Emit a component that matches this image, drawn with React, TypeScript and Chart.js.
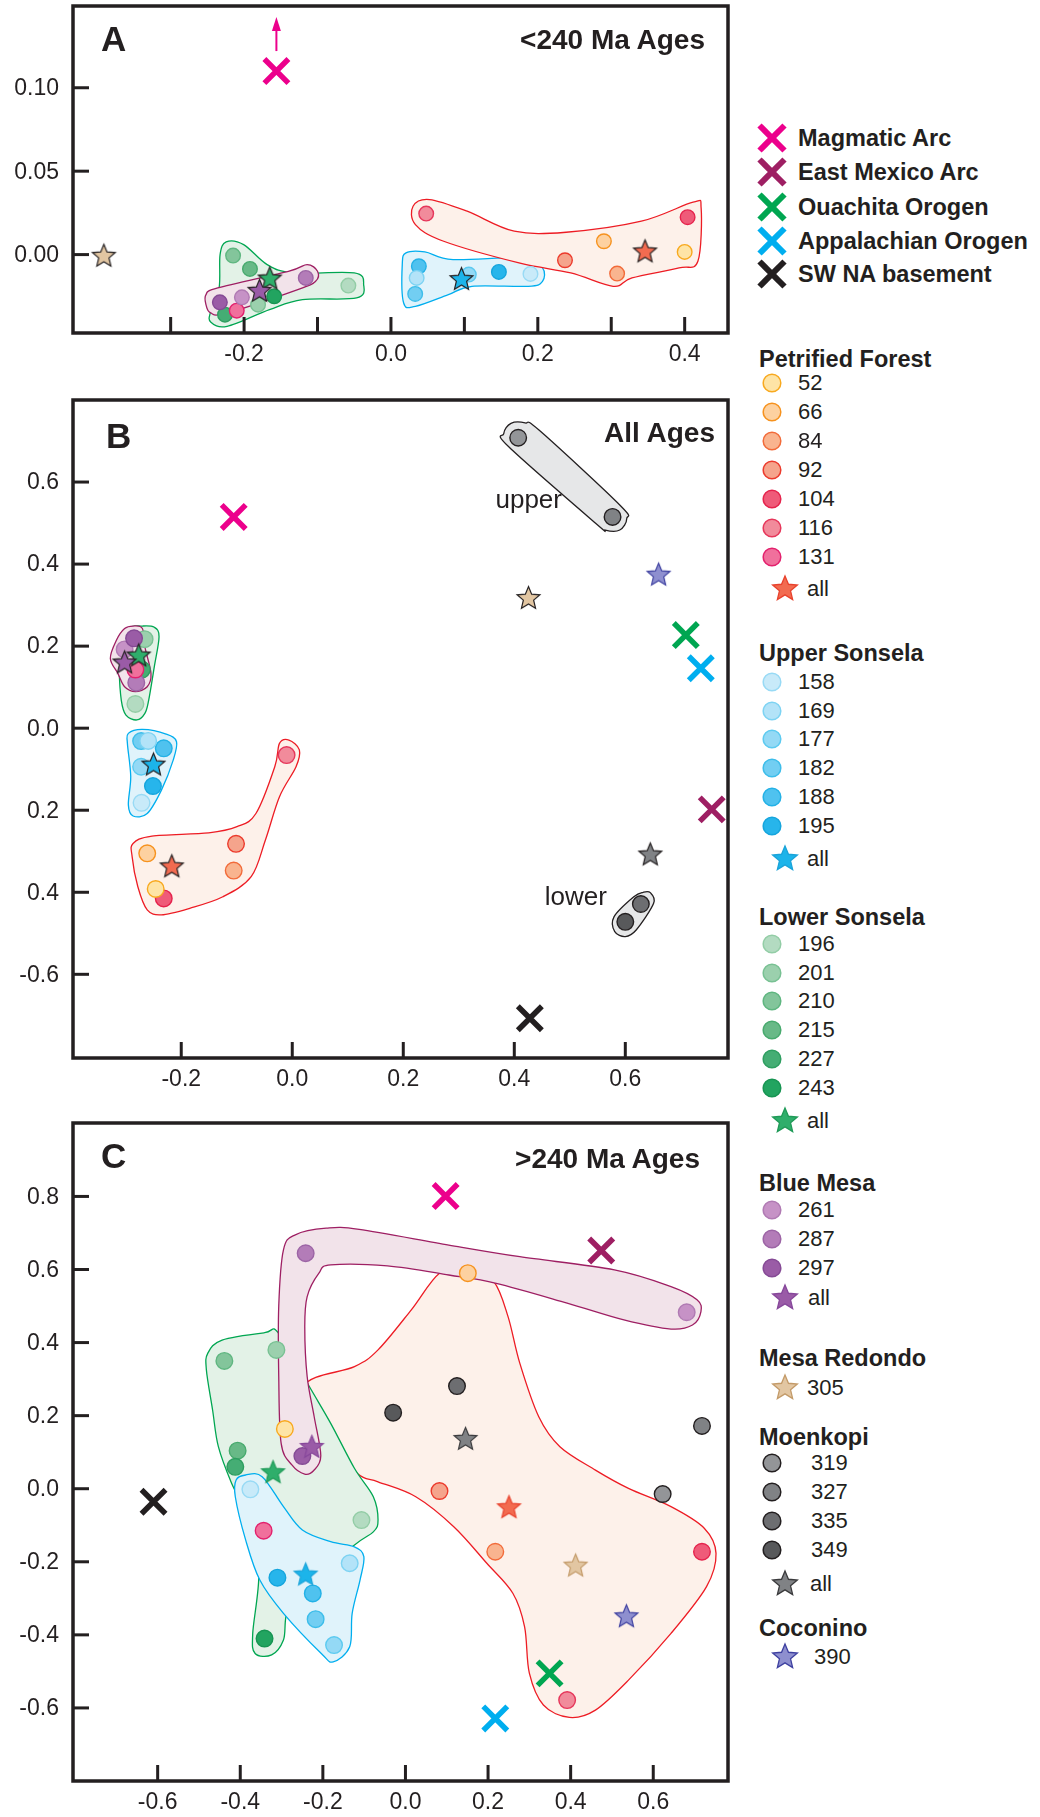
import React, { useEffect, useRef } from 'react';
import { Chart, registerables } from 'chart.js';

Chart.register(...registerables);

type XY = [number, number];
type P = [string, number, number];

// ================= legend groups =================
const PF_IDS = ['52', '66', '84', '92', '104', '116', '131'];
const US_IDS = ['158', '169', '177', '182', '188', '195'];
const LS_IDS = ['196', '201', '210', '215', '227', '243'];
const BM_IDS = ['261', '287', '297'];
const MK_IDS = ['319', '327', '335', '349'];
const MR_ID = '305';
const CO_ID = '390';
const SOURCE_NAMES = ['Magmatic Arc', 'East Mexico Arc', 'Ouachita Orogen', 'Appalachian Orogen', 'SW NA basement'];

// ================= Panel A (<240 Ma) =================
const A_X_TICKS = [-0.3, -0.2, -0.1, 0, 0.1, 0.2, 0.3, 0.4];
const A_X_LABELS = ['', '-0.2', '', '0.0', '', '0.2', '', '0.4'];
const A_Y_TICKS = [0, 0.05, 0.1];
const A_Y_LABELS = ['0.00', '0.05', '0.10'];
const A_CIRCLES: P[] = [
  ['116', 0.048, 0.0246], ['104', 0.404, 0.0224], ['66', 0.29, 0.008], ['92', 0.237, -0.0034], ['84', 0.308, -0.0114], ['52', 0.4, 0.0016],
  ['188', 0.038, -0.007], ['169', 0.035, -0.014], ['182', 0.033, -0.0236], ['177', 0.106, -0.012], ['195', 0.147, -0.0104], ['158', 0.19, -0.0116],
  ['210', -0.215, -0.0006], ['215', -0.192, -0.0086], ['196', -0.058, -0.0186], ['243', -0.159, -0.025], ['201', -0.181, -0.03], ['227', -0.226, -0.036],
  ['131', -0.21, -0.0336],
  ['287', -0.116, -0.014], ['261', -0.203, -0.0256], ['297', -0.233, -0.0286],
];
const A_STARS: P[] = [['MR', -0.391, -0.001], ['LS', -0.165, -0.0146], ['BM', -0.179, -0.022], ['US', 0.096, -0.015], ['PF', 0.346, 0.0016]];
const A_SOURCES: P[] = [['Magmatic Arc', -0.156, 0.11]];
const A_OFFSCALE: P[] = [['Magmatic Arc', -0.156, 0.11]];
const A_HULL_US: XY[] = [[0.0205, 0.001], [0.0462, 0.0016], [0.0846, -0.003], [0.1808, -0.002], [0.2064, -0.008], [0.2064, -0.016], [0.1872, -0.019], [0.1103, -0.019], [0.0782, -0.024], [0.0333, -0.031], [0.0173, -0.029], [0.0154, -0.006]];
const A_HULL_PF: XY[] = [[0.0301, 0.029], [0.0526, 0.033], [0.1038, 0.026], [0.1679, 0.014], [0.2385, 0.0134], [0.341, 0.02], [0.4115, 0.0314], [0.4224, 0.028], [0.418, -0.004], [0.3923, -0.008], [0.3282, -0.014], [0.3026, -0.019], [0.2449, -0.011], [0.1744, -0.005], [0.0718, 0.008], [0.0333, 0.018]];
const A_HULL_LS: XY[] = [[-0.2244, 0.0076], [-0.2006, 0.006], [-0.1686, -0.006], [-0.1333, -0.011], [-0.05, -0.011], [-0.0372, -0.018], [-0.0468, -0.026], [-0.1205, -0.027], [-0.1654, -0.033], [-0.2231, -0.043], [-0.2455, -0.0404], [-0.2455, -0.034], [-0.234, -0.02], [-0.2327, 0.0]];
const A_HULL_BM: XY[] = [[-0.2519, -0.024], [-0.2359, -0.02], [-0.1397, -0.01], [-0.1141, -0.006], [-0.1, -0.01], [-0.1026, -0.016], [-0.1269, -0.021], [-0.2231, -0.035], [-0.2455, -0.035], [-0.2519, -0.03]];

// ================= Panel B (all ages) =================
const B_X_TICKS = [-0.2, 0, 0.2, 0.4, 0.6];
const B_X_LABELS = ['-0.2', '0.0', '0.2', '0.4', '0.6'];
const B_Y_TICKS = [-0.6, -0.4, -0.2, 0, 0.2, 0.4, 0.6];
const B_Y_LABELS = ['-0.6', '0.4', '0.2', '0.0', '0.2', '0.4', '0.6'];
const B_CIRCLES: P[] = [
  ['196', -0.2826, 0.059], ['201', -0.266, 0.217], ['227', -0.271, 0.143],
  ['261', -0.302, 0.192], ['297', -0.285, 0.219], ['287', -0.281, 0.111],
  ['131', -0.2826, 0.143],
  ['158', -0.2715, -0.182], ['195', -0.251, -0.141], ['177', -0.2723, -0.094], ['188', -0.2315, -0.049], ['182', -0.2723, -0.0314], ['169', -0.2596, -0.031],
  ['116', -0.0102, -0.0656], ['92', -0.1013, -0.282], ['84', -0.1055, -0.347], ['66', -0.2613, -0.305], ['104', -0.2315, -0.415], ['52', -0.246, -0.392],
  ['319', 0.407, 0.708], ['327', 0.577, 0.515], ['335', 0.628, -0.4286], ['349', 0.6, -0.472],
];
const B_STARS: P[] = [['LS', -0.2766, 0.176], ['BM', -0.302, 0.159], ['US', -0.25, -0.09], ['PF', -0.217, -0.338], ['MR', 0.4255, 0.316], ['CO', 0.66, 0.373], ['MK', 0.645, -0.309]];
const B_SOURCES: P[] = [['Magmatic Arc', -0.1055, 0.515], ['Ouachita Orogen', 0.709, 0.227], ['Appalachian Orogen', 0.736, 0.146], ['East Mexico Arc', 0.7557, -0.198], ['SW NA basement', 0.428, -0.707]];
const B_NOTES: P[] = [['upper', 0.426, 0.537], ['lower', 0.511, -0.431]];
const B_HULL_LS: XY[] = [[-0.27, 0.249], [-0.2485, 0.246], [-0.24, 0.223], [-0.2485, 0.15], [-0.2587, 0.068], [-0.2655, 0.036], [-0.28, 0.02], [-0.2996, 0.032], [-0.308, 0.068], [-0.312, 0.146], [-0.311, 0.198], [-0.297, 0.243]];
const B_HULL_BM: XY[] = [[-0.2868, 0.249], [-0.27, 0.243], [-0.2655, 0.198], [-0.2545, 0.133], [-0.2613, 0.101], [-0.2826, 0.089], [-0.302, 0.101], [-0.314, 0.133], [-0.3277, 0.17], [-0.3166, 0.215], [-0.302, 0.243]];
const B_HULL_US: XY[] = [[-0.2953, -0.0127], [-0.2698, -0.003], [-0.2272, -0.0144], [-0.2085, -0.033], [-0.2145, -0.078], [-0.2357, -0.151], [-0.2613, -0.208], [-0.2868, -0.214], [-0.2953, -0.187], [-0.291, -0.118], [-0.297, -0.037]];
const B_HULL_PF: XY[] = [[-0.2868, -0.281], [-0.2528, -0.263], [-0.1506, -0.255], [-0.0996, -0.24], [-0.0655, -0.208], [-0.0315, -0.094], [-0.023, -0.037], [-0.006, -0.029], [0.0128, -0.053], [0.0068, -0.094], [-0.023, -0.167], [-0.0485, -0.273], [-0.074, -0.362], [-0.125, -0.411], [-0.1847, -0.439], [-0.2357, -0.455], [-0.2613, -0.443], [-0.2783, -0.386], [-0.2885, -0.313]];
const B_HULL_MK_UPPER: XY[] = [[0.381, 0.718], [0.394, 0.743], [0.4196, 0.744], [0.445, 0.726], [0.59, 0.544], [0.6026, 0.511], [0.59, 0.483], [0.564, 0.483], [0.547, 0.499], [0.39, 0.686]];
const B_HULL_MK_LOWER: XY[] = [[0.645, -0.401], [0.651, -0.427], [0.6196, -0.492], [0.6, -0.508], [0.581, -0.496], [0.5796, -0.46], [0.6153, -0.411], [0.6323, -0.4]];

// ================= Panel C (>240 Ma) =================
const C_X_TICKS = [-0.6, -0.4, -0.2, 0, 0.2, 0.4, 0.6];
const C_X_LABELS = ['-0.6', '-0.4', '-0.2', '0.0', '0.2', '0.4', '0.6'];
const C_Y_TICKS = [-0.6, -0.4, -0.2, 0, 0.2, 0.4, 0.6, 0.8];
const C_Y_LABELS = ['-0.6', '-0.4', '-0.2', '0.0', '0.2', '0.4', '0.6', '0.8'];
const C_CIRCLES: P[] = [
  ['287', -0.2416, 0.6445], ['261', 0.681, 0.483], ['66', 0.151, 0.59],
  ['210', -0.4385, 0.3497], ['201', -0.3125, 0.38], ['215', -0.4064, 0.104], ['227', -0.412, 0.06], ['196', -0.1065, -0.0857], ['243', -0.3412, -0.41],
  ['335', 0.1248, 0.281], ['349', -0.0298, 0.208], ['327', 0.718, 0.172], ['319', 0.6228, -0.0145],
  ['52', -0.292, 0.1635], ['297', -0.2496, 0.0895],
  ['158', -0.3755, -0.0017], ['169', -0.135, -0.204], ['195', -0.31, -0.2436], ['188', -0.2244, -0.2865], ['182', -0.2175, -0.357], ['177', -0.1729, -0.428],
  ['131', -0.3434, -0.115], ['92', 0.0824, -0.0063], ['84', 0.2175, -0.1725], ['104', 0.718, -0.1725], ['116', 0.3915, -0.5786],
];
const C_STARS: P[] = [['MK', 0.1454, 0.135], ['BM', -0.2267, 0.113], ['LS', -0.3206, 0.0438], ['PF', 0.2507, -0.052], ['MR', 0.412, -0.2117], ['US', -0.2416, -0.2363], ['CO', 0.535, -0.3505]];
const C_SOURCES: P[] = [['Magmatic Arc', 0.0973, 0.801], ['East Mexico Arc', 0.474, 0.652], ['SW NA basement', -0.61, -0.0356], ['Ouachita Orogen', 0.349, -0.5055], ['Appalachian Orogen', 0.2175, -0.6287]];
const C_HULL_PF: XY[] = [[0.0824, 0.59], [0.151, 0.608], [0.214, 0.567], [0.2484, 0.471], [0.277, 0.343], [0.3228, 0.197], [0.374, 0.115], [0.46, 0.051], [0.54, 0.001], [0.643, -0.049], [0.7235, -0.108], [0.752, -0.177], [0.729, -0.268], [0.643, -0.396], [0.54, -0.524], [0.46, -0.606], [0.397, -0.626], [0.334, -0.592], [0.3, -0.505], [0.2885, -0.378], [0.26, -0.286], [0.197, -0.204], [0.117, -0.104], [0.025, -0.022], [-0.0664, 0.019], [-0.115, 0.04], [-0.18, 0.13], [-0.245, 0.28], [-0.1236, 0.334], [-0.0664, 0.38], [0.0137, 0.489]];
const C_HULL_LS: XY[] = [[-0.4785, 0.371], [-0.444, 0.407], [-0.341, 0.427], [-0.307, 0.4255], [-0.2324, 0.279], [-0.181, 0.179], [-0.1236, 0.056], [-0.0778, -0.022], [-0.0664, -0.0857], [-0.0778, -0.118], [-0.129, -0.159], [-0.2725, -0.305], [-0.2954, -0.414], [-0.324, -0.455], [-0.364, -0.451], [-0.3698, -0.396], [-0.355, -0.232], [-0.3755, -0.095], [-0.421, 0.015], [-0.453, 0.115], [-0.467, 0.2155], [-0.482, 0.325]];
const C_HULL_US: XY[] = [[-0.41, 0.024], [-0.387, 0.0375], [-0.347, 0.033], [-0.2954, -0.049], [-0.2496, -0.113], [-0.181, -0.145], [-0.1236, -0.159], [-0.1007, -0.186], [-0.11, -0.25], [-0.129, -0.341], [-0.135, -0.4326], [-0.175, -0.4737], [-0.2038, -0.451], [-0.2954, -0.341], [-0.3526, -0.25], [-0.387, -0.14], [-0.412, -0.022]];
const C_HULL_BM: XY[] = [[-0.244, 0.04], [-0.275, 0.065], [-0.301, 0.124], [-0.3068, 0.307], [-0.3068, 0.5], [-0.2954, 0.654], [-0.2667, 0.695], [-0.192, 0.713], [-0.112, 0.71], [0.105, 0.667], [0.277, 0.635], [0.506, 0.599], [0.643, 0.553], [0.706, 0.517], [0.7155, 0.485], [0.695, 0.448], [0.643, 0.437], [0.529, 0.462], [0.3915, 0.508], [0.2198, 0.562], [0.105, 0.585], [-0.0435, 0.61], [-0.181, 0.6125], [-0.2095, 0.59], [-0.238, 0.526], [-0.2438, 0.4436], [-0.238, 0.307], [-0.221, 0.197], [-0.205, 0.09], [-0.222, 0.05]];

// ================= styles =================
const FONT = '"Liberation Sans", Arial, Helvetica, sans-serif';
const INK = '#231f20';
const SAMPLE_STYLE: Record<string, [string, string]> = {
  '52': ['#fee4a6', '#f8a91f'], '66': ['#fdd1a0', '#f6921e'], '84': ['#f9b48f', '#f26b3a'], '92': ['#f5a48c', '#ec3a2c'],
  '104': ['#ef5b79', '#e5234c'], '116': ['#f18b9b', '#e6365a'], '131': ['#f0709c', '#e3206d'],
  '158': ['#c8eaf9', '#98daf5'], '169': ['#b3e3f8', '#7dd3f3'], '177': ['#94d9f5', '#5ccaf0'], '182': ['#72cef2', '#3dbdea'],
  '188': ['#4fc2ef', '#23b1e6'], '195': ['#27b5eb', '#15a5dd'],
  '196': ['#b3dbc1', '#93cda6'], '201': ['#9bd0ad', '#78c193'], '210': ['#83c59b', '#5fb680'], '215': ['#68b987', '#48aa6e'],
  '227': ['#45ad74', '#2e9e60'], '243': ['#22a460', '#179452'],
  '261': ['#c692c6', '#b07ab3'], '287': ['#b37cb8', '#9c64a5'], '297': ['#9a5ca6', '#854a95'],
  '319': ['#939598', INK], '327': ['#808285', INK], '335': ['#6d6e71', INK], '349': ['#58595b', INK],
};
const STAR_STYLE: Record<string, [string, string]> = {
  PF: ['#f26b50', '#e8412c'], US: ['#1cb4ea', '#1aa3d9'], LS: ['#2fae6b', '#1f9a57'], BM: ['#9a5ba7', '#86479a'],
  MR: ['#e2c6a2', '#c39a68'], MK: ['#808285', '#3a3a3c'], CO: ['#8e8fcf', '#3e40a0'],
};
const SOURCE_COLOR: Record<string, string> = {
  'Magmatic Arc': '#ec008c', 'East Mexico Arc': '#9e1f63', 'Ouachita Orogen': '#00a651', 'Appalachian Orogen': '#00aeef', 'SW NA basement': INK,
};
const HULL_STYLE: Record<string, [string, string]> = {
  PF: ['#fdf1ea', '#ed1c24'], US: ['#e0f3fb', '#00aeef'], LS: ['#e3f2e7', '#00a651'], BM: ['#f2e3ea', '#9e1f63'], MK: ['#e6e7e8', INK],
};

interface Spec {
  top: number; h: number; padTop: number; xH: number;
  xMin: number; xMax: number; yMin: number; yMax: number;
  xTicks: number[]; xLabels: string[]; yTicks: number[]; yLabels: string[];
  circles: P[]; stars: P[]; sources: P[]; hulls: [string, XY[]][];
  offscale: P[]; notes: P[]; coloredStars: boolean; circleR: number;
}

const SPEC_A: Spec = {
  top: 0, h: 380, padTop: 6, xH: 47, xMin: -0.433, xMax: 0.459, yMin: -0.047, yMax: 0.149,
  xTicks: A_X_TICKS, xLabels: A_X_LABELS, yTicks: A_Y_TICKS, yLabels: A_Y_LABELS,
  circles: A_CIRCLES, stars: A_STARS, sources: A_SOURCES,
  hulls: [['US', A_HULL_US], ['PF', A_HULL_PF], ['LS', A_HULL_LS], ['BM', A_HULL_BM]],
  offscale: A_OFFSCALE, notes: [], coloredStars: false, circleR: 7.3,
};
const SPEC_B: Spec = {
  top: 385, h: 710, padTop: 15, xH: 37, xMin: -0.395, xMax: 0.785, yMin: -0.804, yMax: 0.8,
  xTicks: B_X_TICKS, xLabels: B_X_LABELS, yTicks: B_Y_TICKS, yLabels: B_Y_LABELS,
  circles: B_CIRCLES, stars: B_STARS, sources: B_SOURCES,
  hulls: [['LS', B_HULL_LS], ['BM', B_HULL_BM], ['US', B_HULL_US], ['PF', B_HULL_PF], ['MK', B_HULL_MK_UPPER], ['MK', B_HULL_MK_LOWER]],
  offscale: [], notes: B_NOTES, coloredStars: false, circleR: 8.3,
};
const SPEC_C: Spec = {
  top: 1110, h: 707, padTop: 13, xH: 36, xMin: -0.805, xMax: 0.781, yMin: -0.8, yMax: 1.001,
  xTicks: C_X_TICKS, xLabels: C_X_LABELS, yTicks: C_Y_TICKS, yLabels: C_Y_LABELS,
  circles: C_CIRCLES, stars: C_STARS, sources: C_SOURCES,
  hulls: [['PF', C_HULL_PF], ['LS', C_HULL_LS], ['US', C_HULL_US], ['BM', C_HULL_BM]],
  offscale: [], notes: [], coloredStars: true, circleR: 8.3,
};

// ================= helpers =================
function starPts(cx: number, cy: number, R: number, r: number): XY[] {
  const pts: XY[] = [];
  for (let i = 0; i < 10; i++) {
    const a = -Math.PI / 2 + (i * Math.PI) / 5;
    const rad = i % 2 === 0 ? R : r;
    pts.push([cx + rad * Math.cos(a), cy + rad * Math.sin(a)]);
  }
  return pts;
}

function starCanvas(fill: string, stroke: string, R: number, lw: number): HTMLCanvasElement {
  const s = Math.ceil(2 * R + 2 * lw + 2);
  const c = document.createElement('canvas');
  c.width = s;
  c.height = s;
  const ctx = c.getContext('2d')!;
  const pts = starPts(s / 2, s / 2, R, R * 0.45);
  ctx.beginPath();
  pts.forEach(([x, y], i) => (i ? ctx.lineTo(x, y) : ctx.moveTo(x, y)));
  ctx.closePath();
  ctx.fillStyle = fill;
  ctx.fill();
  ctx.lineWidth = lw;
  ctx.lineJoin = 'miter';
  ctx.strokeStyle = stroke;
  ctx.stroke();
  return c;
}

function smoothClosed(ctx: CanvasRenderingContext2D, pts: XY[]) {
  const n = pts.length;
  ctx.moveTo(pts[0][0], pts[0][1]);
  const t = 1 / 6;
  for (let i = 0; i < n; i++) {
    const p0 = pts[(i - 1 + n) % n], p1 = pts[i], p2 = pts[(i + 1) % n], p3 = pts[(i + 2) % n];
    ctx.bezierCurveTo(
      p1[0] + (p2[0] - p0[0]) * t, p1[1] + (p2[1] - p0[1]) * t,
      p2[0] - (p3[0] - p1[0]) * t, p2[1] - (p3[1] - p1[1]) * t,
      p2[0], p2[1]
    );
  }
  ctx.closePath();
}

function makeConfig(s: Spec): any {
  const tickFont = { family: FONT, size: 23 };
  const hullPlugin = {
    id: 'hulls',
    beforeDatasetsDraw(chart: any) {
      const { ctx, chartArea: a, scales } = chart;
      const x = scales.x, y = scales.y;
      ctx.save();
      ctx.beginPath();
      ctx.rect(a.left, a.top, a.right - a.left, a.bottom - a.top);
      ctx.clip();
      for (const [g, pts] of s.hulls) {
        const px = pts.map(([vx, vy]) => [x.getPixelForValue(vx), y.getPixelForValue(vy)] as XY);
        ctx.beginPath();
        smoothClosed(ctx, px);
        ctx.fillStyle = HULL_STYLE[g][0];
        ctx.fill();
        ctx.lineWidth = 1.3;
        ctx.strokeStyle = HULL_STYLE[g][1];
        ctx.stroke();
      }
      ctx.restore();
    },
  };
  const annoPlugin = {
    id: 'anno',
    afterDatasetsDraw(chart: any) {
      const { ctx, scales } = chart;
      const x = scales.x, y = scales.y;
      ctx.save();
      for (const [name, vx, vy] of s.offscale) {
        const px = x.getPixelForValue(vx), py = y.getPixelForValue(vy);
        ctx.strokeStyle = SOURCE_COLOR[name];
        ctx.fillStyle = SOURCE_COLOR[name];
        ctx.lineWidth = 2;
        ctx.beginPath();
        ctx.moveTo(px, py - 20);
        ctx.lineTo(px, py - 42);
        ctx.stroke();
        ctx.beginPath();
        ctx.moveTo(px, py - 54);
        ctx.lineTo(px - 4.5, py - 40);
        ctx.lineTo(px + 4.5, py - 40);
        ctx.closePath();
        ctx.fill();
      }
      ctx.font = `26px ${FONT}`;
      ctx.fillStyle = INK;
      ctx.textAlign = 'center';
      ctx.textBaseline = 'alphabetic';
      for (const [txt, vx, vy] of s.notes) {
        ctx.fillText(txt, x.getPixelForValue(vx), y.getPixelForValue(vy));
      }
      ctx.restore();
    },
  };
  const framePlugin = {
    id: 'frame',
    afterDraw(chart: any) {
      const { ctx, chartArea: a, scales } = chart;
      const x = scales.x, y = scales.y;
      ctx.save();
      ctx.strokeStyle = INK;
      ctx.lineWidth = 3;
      for (const v of s.xTicks) {
        const p = x.getPixelForValue(v);
        ctx.beginPath();
        ctx.moveTo(p, a.bottom);
        ctx.lineTo(p, a.bottom - 16);
        ctx.stroke();
      }
      for (const v of s.yTicks) {
        const p = y.getPixelForValue(v);
        ctx.beginPath();
        ctx.moveTo(a.left, p);
        ctx.lineTo(a.left + 16, p);
        ctx.stroke();
      }
      ctx.lineWidth = 3.5;
      ctx.strokeRect(a.left, a.top, a.right - a.left, a.bottom - a.top);
      // y tick labels, placed by the y scale
      ctx.font = `23px ${FONT}`;
      ctx.fillStyle = INK;
      ctx.textAlign = 'right';
      ctx.textBaseline = 'middle';
      s.yTicks.forEach((v, i) => {
        ctx.fillText(s.yLabels[i], a.left - 14, y.getPixelForValue(v) + 1);
      });
      ctx.restore();
    },
  };
  const starStroke = (g: string) => (s.coloredStars ? STAR_STYLE[g][1] : g === 'CO' ? STAR_STYLE.CO[1] : INK);
  return {
    type: 'scatter',
    data: {
      datasets: [
        {
          label: 'sources',
          data: s.sources.map(([, x, y]) => ({ x, y })),
          pointStyle: 'crossRot',
          pointRadius: 17,
          pointBorderWidth: 5.5,
          pointBorderColor: s.sources.map(([n]) => SOURCE_COLOR[n]),
          pointBackgroundColor: 'rgba(0,0,0,0)',
          order: 0,
        },
        {
          label: 'stars',
          data: s.stars.map(([, x, y]) => ({ x, y })),
          pointStyle: s.stars.map(([g]) => starCanvas(STAR_STYLE[g][0], starStroke(g), 12, 1.2)),
          pointRadius: 12,
          order: 1,
        },
        {
          label: 'circles',
          data: s.circles.map(([, x, y]) => ({ x, y })),
          pointStyle: 'circle',
          pointRadius: s.circleR,
          pointBorderWidth: 1.4,
          pointBackgroundColor: s.circles.map(([id]) => SAMPLE_STYLE[id][0]),
          pointBorderColor: s.circles.map(([id]) => SAMPLE_STYLE[id][1]),
          order: 2,
        },
      ],
    },
    options: {
      responsive: false,
      animation: false,
      events: [],
      layout: { autoPadding: false, padding: { top: s.padTop, right: 12, left: 0, bottom: 0 } },
      plugins: { legend: { display: false }, tooltip: { enabled: false } },
      scales: {
        x: {
          type: 'linear',
          min: s.xMin,
          max: s.xMax,
          afterBuildTicks: (sc: any) => { sc.ticks = s.xTicks.map((v) => ({ value: v })); },
          afterFit: (sc: any) => { sc.height = s.xH; sc.paddingLeft = 0; sc.paddingRight = 0; },
          grid: { display: false, drawTicks: false },
          border: { display: false },
          ticks: {
            autoSkip: false, maxRotation: 0, minRotation: 0, padding: 8, color: INK, font: tickFont,
            callback: (_v: any, i: number) => s.xLabels[i],
          },
        },
        y: {
          type: 'linear',
          min: s.yMin,
          max: s.yMax,
          afterBuildTicks: (sc: any) => { sc.ticks = s.yTicks.map((v) => ({ value: v })); },
          afterFit: (sc: any) => { sc.width = 73; sc.paddingTop = 0; sc.paddingBottom = 0; },
          grid: { display: false, drawTicks: false },
          border: { display: false },
          ticks: { display: false },
        },
      },
    },
    plugins: [hullPlugin, annoPlugin, framePlugin],
  };
}

function Panel({ spec }: { spec: Spec }) {
  const ref = useRef<HTMLCanvasElement | null>(null);
  useEffect(() => {
    if (!ref.current) return;
    const chart = new Chart(ref.current, makeConfig(spec));
    return () => chart.destroy();
  }, [spec]);
  return (
    <canvas
      ref={ref}
      width={740}
      height={spec.h}
      style={{ position: 'absolute', left: 0, top: spec.top, width: 740, height: spec.h }}
    />
  );
}

// ================= legend (HTML) =================
function XMark({ cx, cy, color }: { cx: number; cy: number; color: string }) {
  return (
    <svg width={30} height={30} style={{ position: 'absolute', left: cx - 15, top: cy - 15 }}>
      <line x1={2.5} y1={2.5} x2={27.5} y2={27.5} stroke={color} strokeWidth={6} />
      <line x1={27.5} y1={2.5} x2={2.5} y2={27.5} stroke={color} strokeWidth={6} />
    </svg>
  );
}
function Dot({ cx, cy, id }: { cx: number; cy: number; id: string }) {
  const [f, st] = SAMPLE_STYLE[id];
  return (
    <svg width={22} height={22} style={{ position: 'absolute', left: cx - 11, top: cy - 11 }}>
      <circle cx={11} cy={11} r={8.8} fill={f} stroke={st} strokeWidth={1.5} />
    </svg>
  );
}
function StarMark({ cx, cy, g }: { cx: number; cy: number; g: string }) {
  const [f, st] = STAR_STYLE[g];
  const pts = starPts(16, 16, 13, 13 * 0.45).map(([x, y]) => `${x.toFixed(2)},${y.toFixed(2)}`).join(' ');
  return (
    <svg width={32} height={32} style={{ position: 'absolute', left: cx - 16, top: cy - 16 }}>
      <polygon points={pts} fill={f} stroke={st} strokeWidth={1.3} />
    </svg>
  );
}
function Label({ x, cy, bold, size, children }: { x: number; cy: number; bold?: boolean; size: number; children: any }) {
  return (
    <div
      style={{
        position: 'absolute', left: x, top: cy - 13, height: 26, lineHeight: '26px',
        fontSize: size, fontWeight: bold ? 700 : 400, whiteSpace: 'nowrap', fontFamily: FONT, color: INK,
      }}
    >
      {children}
    </div>
  );
}

function Legend() {
  const els: any[] = [];
  const srcY = [138, 172, 207, 241, 274];
  SOURCE_NAMES.forEach((n, i) => {
    els.push(<XMark key={'xm' + i} cx={772} cy={srcY[i]} color={SOURCE_COLOR[n]} />);
    els.push(<Label key={'xl' + i} x={798} cy={srcY[i]} bold size={23.5}>{n}</Label>);
  });
  const groups = [
    { title: 'Petrified Forest', head: 359, ids: PF_IDS, first: 383, step: 29.05, tx: 798, g: 'PF', sl: 'all', sy: 589, stx: 807 },
    { title: 'Upper Sonsela', head: 653, ids: US_IDS, first: 681.7, step: 28.8, tx: 798, g: 'US', sl: 'all', sy: 859, stx: 807 },
    { title: 'Lower Sonsela', head: 917, ids: LS_IDS, first: 943.7, step: 28.8, tx: 798, g: 'LS', sl: 'all', sy: 1121, stx: 807 },
    { title: 'Blue Mesa', head: 1183, ids: BM_IDS, first: 1210, step: 29.2, tx: 798, g: 'BM', sl: 'all', sy: 1298, stx: 808 },
    { title: 'Mesa Redondo', head: 1358, ids: [] as string[], first: 0, step: 0, tx: 0, g: 'MR', sl: MR_ID, sy: 1388, stx: 807 },
    { title: 'Moenkopi', head: 1437, ids: MK_IDS, first: 1463.3, step: 28.9, tx: 811, g: 'MK', sl: 'all', sy: 1584, stx: 810 },
    { title: 'Coconino', head: 1628, ids: [] as string[], first: 0, step: 0, tx: 0, g: 'CO', sl: CO_ID, sy: 1657, stx: 814 },
  ];
  groups.forEach((gr, gi) => {
    els.push(<Label key={'h' + gi} x={759} cy={gr.head} bold size={23.5}>{gr.title}</Label>);
    gr.ids.forEach((id, i) => {
      const cy = gr.first + i * gr.step;
      els.push(<Dot key={'d' + gi + '_' + i} cx={772} cy={cy} id={id} />);
      els.push(<Label key={'t' + gi + '_' + i} x={gr.tx} cy={cy} size={22}>{id}</Label>);
    });
    els.push(<StarMark key={'s' + gi} cx={784.5} cy={gr.sy} g={gr.g} />);
    els.push(<Label key={'sl' + gi} x={gr.stx} cy={gr.sy} size={22}>{gr.sl}</Label>);
  });
  return <>{els}</>;
}

function Title({ left, right, top, size, children }: { left?: number; right?: number; top: number; size: number; children: any }) {
  const style: any = {
    position: 'absolute', top, fontSize: size, lineHeight: '1', fontWeight: 700, fontFamily: FONT, color: INK, whiteSpace: 'nowrap',
  };
  if (left !== undefined) style.left = left;
  if (right !== undefined) { style.left = 0; style.width = right; style.textAlign = 'right'; }
  return <div style={style}>{children}</div>;
}

export default function App() {
  return (
    <div style={{ position: 'absolute', left: 0, top: 0, width: 1040, height: 1817, background: '#ffffff', overflow: 'hidden' }}>
      <Panel spec={SPEC_A} />
      <Panel spec={SPEC_B} />
      <Panel spec={SPEC_C} />
      <Title left={101} top={21} size={35}>A</Title>
      <Title right={705} top={26} size={28}>{'<240 Ma Ages'}</Title>
      <Title left={106} top={418} size={35}>B</Title>
      <Title right={715} top={419} size={28}>All Ages</Title>
      <Title left={101} top={1138} size={35}>C</Title>
      <Title right={700} top={1145} size={28}>{'>240 Ma Ages'}</Title>
      <Legend />
    </div>
  );
}
